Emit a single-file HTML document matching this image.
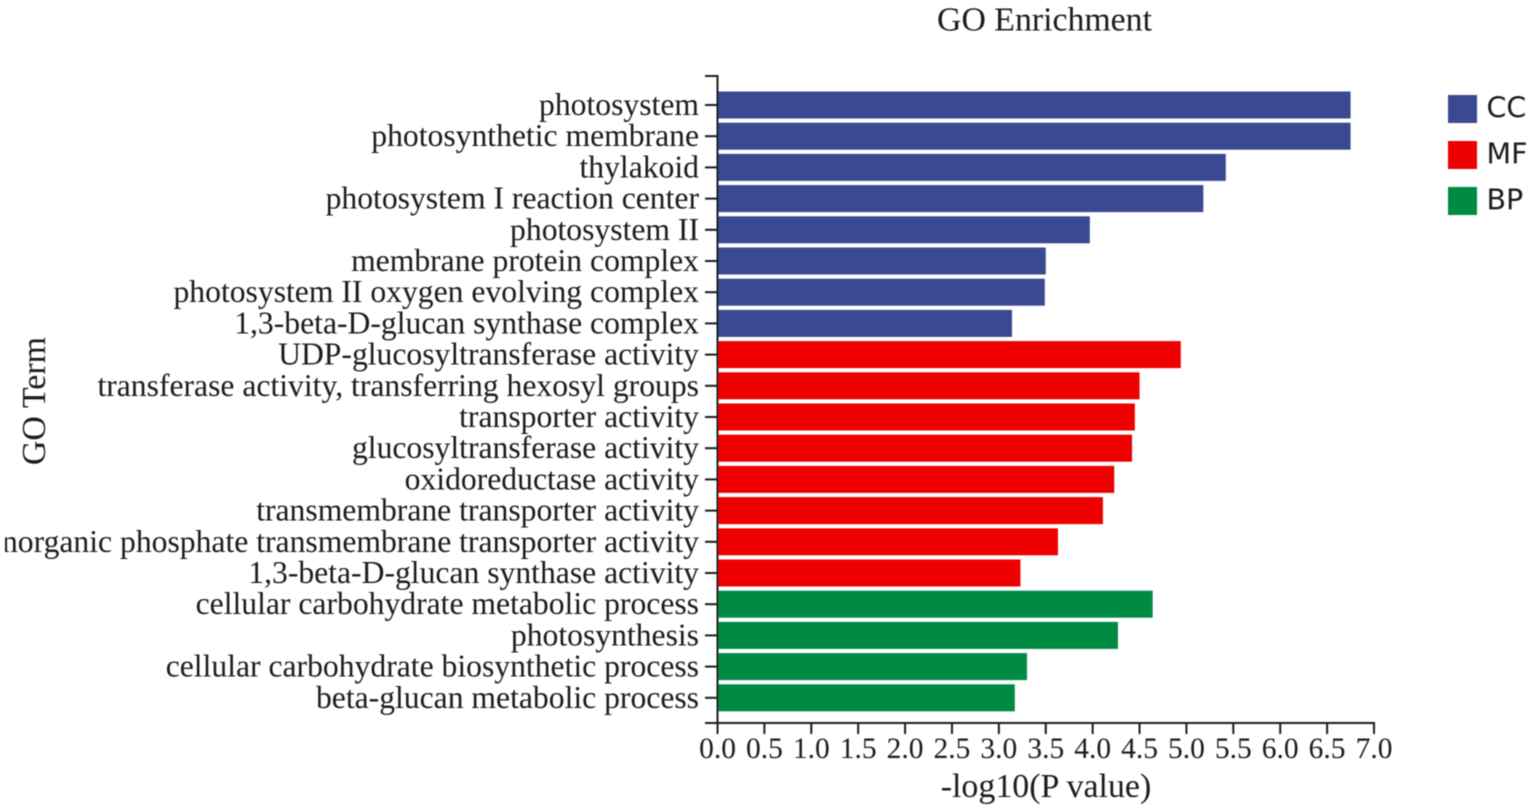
<!DOCTYPE html>
<html>
<head>
<meta charset="utf-8">
<style>
html,body{margin:0;padding:0;background:#fff;width:1535px;height:811px;overflow:hidden}
svg{display:block}
text{font-family:"Liberation Serif",serif;fill:#1a1a1a}
</style>
</head>
<body>
<svg id="chart" width="1535" height="811" viewBox="0 0 1535 811" xmlns="http://www.w3.org/2000/svg">
<defs>
<clipPath id="label-clip"><rect x="5" y="0" width="720" height="811"></rect></clipPath>
<filter id="soft" x="-2%" y="-2%" width="104%" height="104%"><feGaussianBlur stdDeviation="0.45"></feGaussianBlur></filter>
</defs>
<g id="root" filter="url(#soft)">
<text x="1044.5" y="30.5" text-anchor="middle" font-size="33.8">GO Enrichment</text>
<text transform="translate(45,401) rotate(-90)" text-anchor="middle" font-size="34">GO Term</text>
<text x="1046" y="797" text-anchor="middle" font-size="33.9">-log10(P value)</text>
</g>
</svg>
<script>
const categories = ["photosystem","photosynthetic membrane","thylakoid","photosystem I reaction center","photosystem II","membrane protein complex","photosystem II oxygen evolving complex","1,3-beta-D-glucan synthase complex","UDP-glucosyltransferase activity","transferase activity, transferring hexosyl groups","transporter activity","glucosyltransferase activity","oxidoreductase activity","transmembrane transporter activity","inorganic phosphate transmembrane transporter activity","1,3-beta-D-glucan synthase activity","cellular carbohydrate metabolic process","photosynthesis","cellular carbohydrate biosynthetic process","beta-glucan metabolic process"];
const values = [6.75,6.75,5.42,5.18,3.97,3.50,3.49,3.14,4.94,4.50,4.45,4.42,4.23,4.11,3.63,3.23,4.64,4.27,3.30,3.17];
const groups = ["CC","CC","CC","CC","CC","CC","CC","CC","MF","MF","MF","MF","MF","MF","MF","MF","BP","BP","BP","BP"];
const legendKeys = ["CC","MF","BP"];
const legendColors = ["#3b4992","#ee0000","#008b45"];
const xTicks = ["0.0","0.5","1.0","1.5","2.0","2.5","3.0","3.5","4.0","4.5","5.0","5.5","6.0","6.5","7.0"];

const NS = "http://www.w3.org/2000/svg";
const root = document.getElementById("root");
const xMax = 7, x0 = 717.5, x1 = 1374, yTop = 76, yBottom = 723;
const firstCenter = 105, step = 31.2, barH = 27;
const xScale = v => x0 + (v / xMax) * (x1 - x0);
const yScale = i => firstCenter + i * step;
const colorOf = g => legendColors[legendKeys.indexOf(g)];

function make(tag, attrs, parent) {
  const el = document.createElementNS(NS, tag);
  for (const k in attrs) el.setAttribute(k, attrs[k]);
  (parent || root).appendChild(el);
  return el;
}
const axisStyle = {stroke: "#1a1a1a", "stroke-width": 2, fill: "none"};

const labelGroup = make("g", {"clip-path": "url(#label-clip)"});



categories.forEach((name, i) => {
  const y = yScale(i);
  const bar = make("rect", {x: x0, y: y - barH / 2, width: xScale(values[i]) - x0, height: barH, fill: colorOf(groups[i])});
  
  

  const tick = make("line", {x1: 705, x2: x0, y1: y, y2: y, ...axisStyle});
  
  

  const label = make("text", {x: 699, y: y + 10, "text-anchor": "end", "font-size": 31.65}, labelGroup);
  
  
  label.textContent = name;
});

const yAxis = make("path", {d: `M705 ${yTop}H${x0}V${yBottom}`, ...axisStyle});



const xAxis = make("line", {x1: 705, x2: x1 + 1, y1: yBottom, y2: yBottom, ...axisStyle});



xTicks.forEach(t => {
  const x = xScale(parseFloat(t));
  const tick = make("line", {x1: x, x2: x, y1: yBottom, y2: yBottom + 11, ...axisStyle});
  
  

  const label = make("text", {x: x, y: 758, "text-anchor": "middle", "font-size": 29.5});
  
  
  label.textContent = t;
});

legendKeys.forEach((key, i) => {
  const y = 95 + i * 46;
  const swatch = make("rect", {x: 1448, y: y, width: 29, height: 28, fill: legendColors[i]});
  
  

  const label = make("text", {x: 1486.5, y: y + 22.5, "font-size": 28.5});
  label.setAttribute('style', 'font-family:"DejaVu Sans",sans-serif');
  
  
  label.textContent = key;
});
</script>
</body>
</html>
